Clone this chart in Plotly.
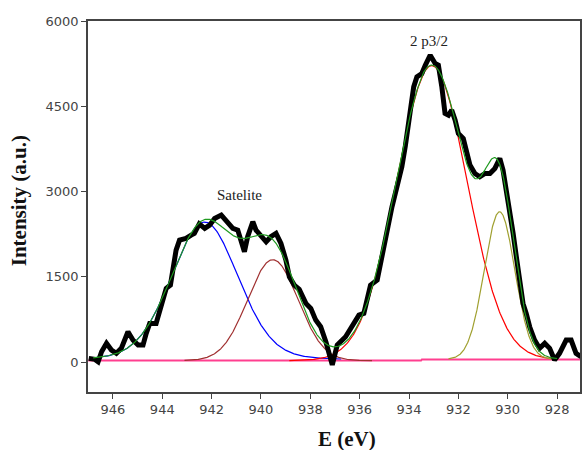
import numpy as np
import plotly.graph_objects as go

# Measured Cu 2p3/2 XPS spectrum (binding energy in eV, intensity in a.u.)
energy = [946.98, 946.8, 946.73, 946.6, 946.46, 946.26, 946.06, 945.86, 945.66, 945.39,
          945.19, 944.98, 944.78, 944.65, 944.51, 944.25, 944.11, 943.98, 943.84, 943.67,
          943.57, 943.44, 943.3, 943.04, 942.83, 942.7, 942.5, 942.36, 942.28, 942.08,
          941.88, 941.61, 941.41, 941.14, 940.94, 940.8, 940.67, 940.54, 940.33, 940.2,
          940.0, 939.79, 939.6, 939.39, 939.19, 938.99, 938.85, 938.65, 938.45, 938.18,
          937.98, 937.78, 937.58, 937.37, 937.11, 936.91, 936.57, 936.3, 936.03, 935.83,
          935.56, 935.29, 935.09, 934.89, 934.69, 934.49, 934.29, 934.15, 934.02, 933.81,
          933.68, 933.48, 933.34, 933.14, 932.94, 932.81, 932.67, 932.54, 932.4, 932.27,
          932.13, 932.0, 931.8, 931.66, 931.53, 931.33, 931.13, 930.92, 930.72, 930.52,
          930.39, 930.32, 930.19, 930.05, 929.92, 929.78, 929.65, 929.51, 929.38, 929.25,
          929.11, 928.91, 928.71, 928.5, 928.3, 928.1, 927.9, 927.63, 927.43, 927.23,
          927.03]
intensity = [65, 65, 47, 5, 181, 329, 211, 153, 241, 533,
             387, 299, 299, 505, 680, 680, 914, 1148, 1296, 1354,
             1618, 1970, 2145, 2175, 2233, 2263, 2430, 2380, 2351, 2409,
             2527, 2585, 2497, 2351, 2321, 2145, 1940, 2204, 2468, 2321,
             2204, 2116, 2204, 2263, 2087, 1794, 1500, 1354, 1280, 1032,
             944, 738, 621, 357, -50, 299, 445, 621, 826, 856,
             1354, 1442, 1911, 2380, 2731, 3083, 3434, 3800, 4200, 4841,
             5017, 5076, 5223, 5399, 5253, 5223, 4841, 4373, 4343, 4431,
             4255, 4021, 3933, 3670, 3464, 3318, 3259, 3318, 3318, 3406,
             3552, 3582, 3376, 3024, 2673, 2263, 1852, 1384, 1032, 856,
             621, 387, 241, 329, 241, 35, 153, 387, 387, 153,
             94]

# Fitted components: centre (eV), height (a.u.), width (eV), Lorentzian fraction
peak_names = ["satellite 1", "satellite 2", "main", "shoulder"]
peak_centers = [942.28, 939.52, 933.08, 930.33]
peak_heights = [2437, 1776, 5170, 2600]
peak_widths = [1.6, 1.02, 1.44, 0.62]      # HWHM for pseudo-Voigt, sigma for Gaussians
peak_lorentz = [0.15, 0.0, 0.0, 0.0]
peak_spans = [(946.75, 936.75), (943.1, 935.5), (938.85, 928.0), (932.4, 928.05)]
peak_colors = ["#0000ff", "#a03030", "#ff0000", "#a0a030"]

# Background levels (high-energy side / low-energy side of the step)
background_levels = [25, 45]
background_step = 933.5
envelope_span = (946.8, 928.0)


def background(e):
    return np.where(e > background_step, background_levels[0], background_levels[1])


def component(e, i):
    d = e - peak_centers[i]
    w = peak_widths[i]
    m = peak_lorentz[i]
    if m > 0:
        g = np.exp(-np.log(2) * (d / w) ** 2)
        lor = 1.0 / (1.0 + (d / w) ** 2)
        shape = (1 - m) * g + m * lor
    else:
        shape = np.exp(-d ** 2 / (2 * w ** 2))
    return peak_heights[i] * shape


fig = go.Figure()

# background line across the full window
e_bg = np.linspace(947.0, 927.05, 600)
fig.add_trace(go.Scatter(x=e_bg, y=background(e_bg), mode="lines",
                         line=dict(color="#ff3f8f", width=2), hoverinfo="skip"))

# individual components
for i in range(len(peak_centers)):
    lo, hi = peak_spans[i]
    e = np.linspace(lo, hi, 400)
    fig.add_trace(go.Scatter(x=e, y=component(e, i) + background(e), mode="lines",
                             name=peak_names[i],
                             line=dict(color=peak_colors[i], width=1.2)))

# experimental data
fig.add_trace(go.Scatter(x=energy, y=intensity, mode="lines",
                         line=dict(color="#000000", width=5)))

# fit envelope
e_env = np.linspace(envelope_span[0], envelope_span[1], 800)
env = background(e_env) + sum(component(e_env, i) for i in range(len(peak_centers)))
fig.add_trace(go.Scatter(x=e_env, y=env, mode="lines",
                         line=dict(color="#1f9a1f", width=1.2)))

serif = "Liberation Serif, Times New Roman, serif"
fig.add_annotation(x=940.87, y=2940, text="Satelite", showarrow=False,
                   font=dict(family=serif, size=15, color="#222"))
fig.add_annotation(x=933.21, y=5640, text="2 p3/2", showarrow=False,
                   font=dict(family=serif, size=15, color="#222"))

# axis titles
fig.add_annotation(xref="paper", yref="paper", x=(348 - 88) / 494, y=-(439 - 392) / 371,
                   xanchor="center", yanchor="middle",
                   text="<b>E (eV)</b>", showarrow=False,
                   font=dict(family=serif, size=21, color="#111"))
fig.add_annotation(xref="paper", yref="paper", x=-(88 - 19) / 494, y=(392 - 201) / 371,
                   xanchor="center", yanchor="middle",
                   text="<b>Intensity (a.u.)</b>", showarrow=False, textangle=-90,
                   font=dict(family=serif, size=21, color="#111"))

axis_common = dict(showgrid=False, zeroline=False, showline=True, mirror=True,
                   linecolor="#444", linewidth=1.5, ticks="outside", ticklen=5,
                   tickcolor="#444",
                   tickfont=dict(family="DejaVu Sans", size=13, color="#444"))

fig.update_xaxes(range=[947.01, 927.07], tickvals=list(range(928, 947, 2)), **axis_common)
fig.update_yaxes(range=[-527, 6000], tickvals=[0, 1500, 3000, 4500, 6000], **axis_common)

fig.update_layout(width=584, height=450, margin=dict(l=88, r=2, t=21, b=58),
                  plot_bgcolor="white", paper_bgcolor="white", showlegend=False)

fig.write_html("out.html")
